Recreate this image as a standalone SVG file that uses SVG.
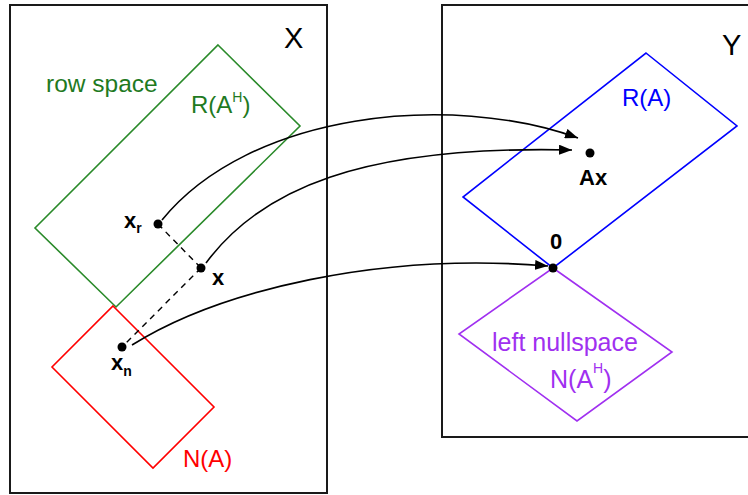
<svg xmlns="http://www.w3.org/2000/svg" width="748" height="495" viewBox="0 0 748 495">
<style>
.box{fill:none;stroke:#1a1a1a;stroke-width:2}
.shape{fill:none;stroke-width:1.6}
.t{font-family:"Liberation Sans",Arial,sans-serif}
.b{font-weight:bold}
.conn{fill:none;stroke:#000;stroke-width:1.6}
.dash{fill:none;stroke:#000;stroke-width:1.4;stroke-dasharray:6,5}
.dot{fill:#000}
</style>
<defs>
<marker id="ah" viewBox="0 0 13 10" refX="13" refY="5" markerWidth="13" markerHeight="10" markerUnits="userSpaceOnUse" orient="auto">
<path d="M0,0 L13,5 L0,10 Z" fill="#000"/>
</marker>
</defs>
<g id="spaceX">
<rect class="box" x="10" y="5" width="317" height="488"/>
<text class="t" x="284" y="48" font-size="29">X</text>
</g>
<g id="spaceY">
<rect class="box" x="442" y="5" width="320" height="432"/>
<text class="t" x="722" y="55" font-size="29">Y</text>
</g>
<g id="rowspace">
<polygon class="shape" stroke="#2a8a2a" points="218,45 300,126 116,307 35,228"/>
<text class="t" x="46" y="92" font-size="24.5" fill="#1f7a1f">row space</text>
<text class="t" x="191" y="113" font-size="24" fill="#1f7a1f">R(A<tspan font-size="14" dy="-11">H</tspan><tspan dy="11">)</tspan></text>
</g>
<g id="nullspace">
<polygon class="shape" stroke="#ff0000" points="113,306 214,407 153,468 52,367"/>
<text class="t" x="183" y="467" font-size="24" fill="#ff0000">N(A)</text>
</g>
<g id="range">
<polygon class="shape" stroke="#0000ff" points="646,53 737,126 553,268 463,197"/>
<text class="t" x="622" y="106" font-size="24" fill="#0000ff">R(A)</text>
</g>
<g id="leftnull">
<polygon class="shape" stroke="#a030f0" points="553,268 672,352 577,421 459,334"/>
<text class="t" x="492" y="351" font-size="25" fill="#a030f0">left nullspace</text>
<text class="t" x="550" y="388" font-size="25" fill="#a030f0">N(A<tspan font-size="14" dy="-15">H</tspan><tspan dy="15">)</tspan></text>
</g>
<g id="connectors">
<path class="dash" d="M158,224 L201,268"/>
<path class="dash" d="M201,268 L122,347"/>
<path class="conn" marker-end="url(#ah)" d="M162,220 C250,112 450,92 578,138"/>
<path class="conn" marker-end="url(#ah)" d="M206,263 C260,190 360,145 572,150"/>
<path class="conn" marker-end="url(#ah)" d="M132,345 C220,290 380,252 548,266"/>
</g>
<g id="pt-xr">
<circle class="dot" cx="158" cy="224" r="4.5"/>
<text class="t b" x="124" y="228" font-size="22">x<tspan font-size="14" dy="5">r</tspan></text>
</g>
<g id="pt-x">
<circle class="dot" cx="201" cy="268" r="4.5"/>
<text class="t b" x="212" y="285" font-size="22">x</text>
</g>
<g id="pt-xn">
<circle class="dot" cx="122" cy="347" r="4.5"/>
<text class="t b" x="111" y="370" font-size="22">x<tspan font-size="14" dy="6">n</tspan></text>
</g>
<g id="pt-Ax">
<circle class="dot" cx="590" cy="153" r="4.5"/>
<text class="t b" x="579" y="185" font-size="22">Ax</text>
</g>
<g id="pt-0">
<circle class="dot" cx="553" cy="268" r="4.5"/>
<text class="t b" x="550" y="249" font-size="22">0</text>
</g>
</svg>
